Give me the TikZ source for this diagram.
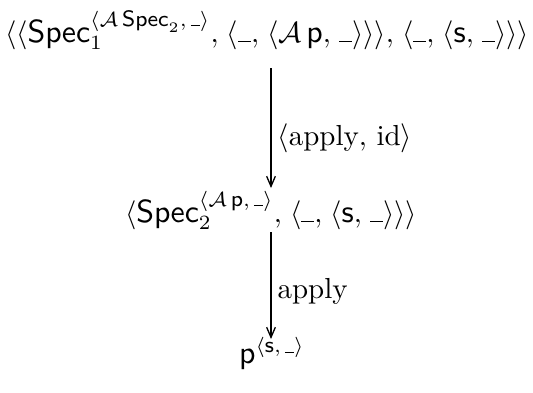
\documentclass[tikz,border=0pt]{standalone}
\usepackage{amsmath}
\usepackage{fontspec}
\setsansfont{Latin Modern Sans}[Scale=1.1]
\usetikzlibrary{arrows.meta}
\newcommand\blk{\text{\rule{0.45em}{0.045em}}}
\newcommand\cm{,\mkern2mu}
\begin{document}
\begin{tikzpicture}[x=0.345pt,y=-0.345pt,
  term/.style={inner sep=0pt,anchor=base},
  lbl/.style={inner sep=0pt,anchor=base west},
  arr/.style={line width=0.45pt,-{Straight Barb[length=3.5pt,width=3pt]}}]
\useasboundingbox (0,0) rectangle (533,392);
\node[term] (top) at (267,42) {$\langle\langle \mathsf{Spec}_1^{\langle \mathcal{A}\,\mathsf{Spec}_2,\,\blk\rangle}\cm \langle \blk\cm \langle \mathcal{A}\,\mathsf{p}\cm \blk\rangle\rangle\rangle\cm \langle \blk\cm \langle \mathsf{s}\cm \blk\rangle\rangle\rangle$};
\node[term] (mid) at (271,222) {$\langle \mathsf{Spec}_2^{\langle \mathcal{A}\,\mathsf{p},\,\blk\rangle}\cm \langle \blk\cm \langle \mathsf{s}\cm \blk\rangle\rangle\rangle$};
\node[term] (bot) at (272,363) {$\mathsf{p}^{\langle \mathsf{s},\,\blk\rangle}$};
\coordinate (a1s) at (271,68);
\coordinate (a1e) at (271,188);
\coordinate (a2s) at (271,232);
\coordinate (a2e) at (271,339);
\draw[arr] (a1s) -- (a1e);
\draw[arr] (a2s) -- (a2e);
\node[lbl] (l1) at (277,145) {$\langle \mathrm{apply},\,\mathrm{id}\rangle$};
\node[lbl] (l2) at (277,298) {$\mathrm{apply}$};
\end{tikzpicture}
\end{document}
